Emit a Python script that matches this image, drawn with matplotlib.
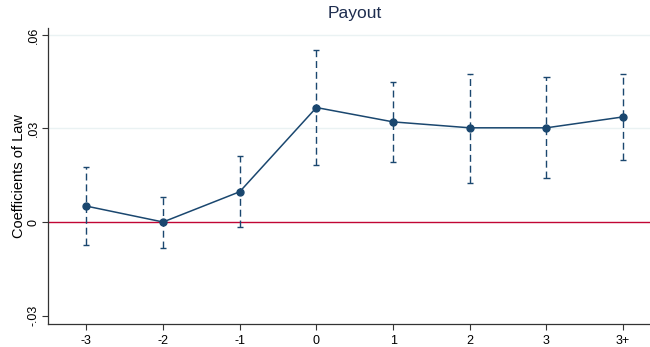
import numpy as np
import matplotlib.pyplot as plt

plt.rcParams['font.family'] = ['Liberation Sans', 'DejaVu Sans']

# event-time coefficients with 95% CI
periods = ['-3', '-2', '-1', '0', '1', '2', '3', '3+']
coef = [0.0051, 0.0000, 0.0097, 0.0367, 0.0321, 0.0302, 0.0302, 0.0337]
ci_low = [-0.0074, -0.0083, -0.0016, 0.0183, 0.0193, 0.0125, 0.0141, 0.0199]
ci_high = [0.0176, 0.0080, 0.0213, 0.0550, 0.0449, 0.0475, 0.0465, 0.0475]

navy = '#1a476f'
x = np.arange(len(periods))

fig = plt.figure(figsize=(6.5, 3.47), dpi=100)
ax = fig.add_axes([0.0738, 0.0663, 0.9262, 0.853])

for yv in [0.03, 0.06]:
    ax.axhline(yv, color='#eaf2f3', lw=1.0, zorder=0)
ax.axhline(0, color='#c10534', lw=1.0, zorder=1)

ax.vlines(x, ci_low, ci_high, colors=navy, linestyles=(0, (5, 2.8)), lw=1.0, zorder=2)
ax.hlines(ci_low, x - 0.04, x + 0.04, colors=navy, lw=1.0, zorder=2)
ax.hlines(ci_high, x - 0.04, x + 0.04, colors=navy, lw=1.0, zorder=2)
ax.plot(x, coef, color=navy, lw=1.1, marker='o', ms=5, zorder=3)

ax.set_xlim(-0.5, 7.35)
ax.set_ylim(-0.0327, 0.0622)
ax.set_xticks(x)
ax.set_xticklabels(periods)
ax.set_yticks([-0.03, 0, 0.03, 0.06])
ax.set_yticklabels(['-.03', '0', '.03', '.06'], rotation=90, va='center')
ax.tick_params(axis='both', labelsize=9, length=4, width=0.8, color='#333333', pad=4)
ax.tick_params(axis='y', pad=2)

for s in ['top', 'right']:
    ax.spines[s].set_visible(False)
for s in ['left', 'bottom']:
    ax.spines[s].set_linewidth(0.9)
    ax.spines[s].set_color('#333333')

ax.set_ylabel('Coefficients of Law', fontsize=10.5, labelpad=1)
ax.set_title('Payout', fontsize=12.5, color='#1e2d4f', x=0.51, pad=7)

fig.savefig('out.png', dpi=100)
